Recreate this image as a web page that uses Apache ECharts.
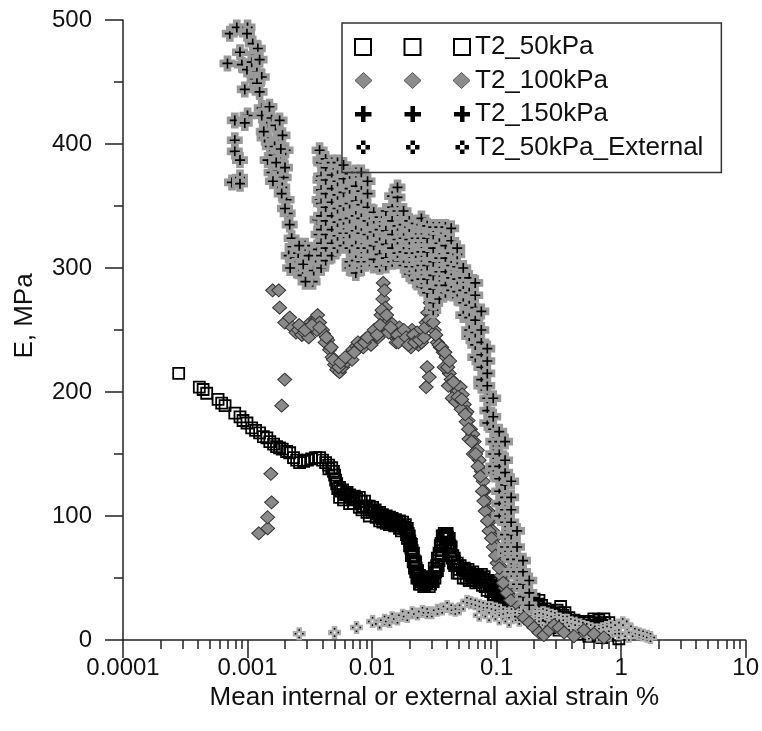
<!DOCTYPE html>
<html><head><meta charset="utf-8">
<script src="https://cdn.jsdelivr.net/npm/echarts@6/dist/echarts.min.js"></script>
<style>html,body{margin:0;padding:0;background:#fff}#c{width:762px;height:731px}</style>
</head><body><div id="c"></div>
<script>
const xTickLabels = ['0.0001','0.001','0.01','0.1','1','10'];
const seriesNames = ['T2_50kPa','T2_100kPa','T2_150kPa','T2_50kPa_External'];
const xTitle = 'Mean internal or external axial strain %';
const yTitle = 'E, MPa';

// T2_50kPa (hollow squares)
const sq50 = [[0.00028,215],[0.00041,204],[0.00044,202],[0.00047,199],[0.00058,194],[0.00062,191],[0.00066,189],[0.00079,183],[0.00087,180],[0.00092,177],[0.00099,175],[0.00108,171],[0.00116,169],[0.00125,167],[0.00134,164],[0.00143,163],[0.00151,160],[0.00162,158],[0.00171,156],[0.00181,155],[0.0019,154],[0.00206,152],[0.00218,151],[0.00234,147],[0.00248,145],[0.00262,143],[0.00282,144],[0.00303,145],[0.00327,146],[0.00352,147],[0.00379,147],[0.004,145],[0.00424,143],[0.00448,141],[0.00474,139],[0.0049,136],[0.005,133],[0.0051,129],[0.0052,126],[0.00548,123],[0.0058,121],[0.0063,119],[0.0066,117],[0.0072,116],[0.0079,115],[0.0087,112],[0.0095,108],[0.0101,107],[0.0106,105],[0.0115,103],[0.0121,101],[0.013,100],[0.0138,99],[0.0145,98],[0.0154,97],[0.0166,96],[0.0176,95],[0.0185,93],[0.0192,90],[0.0199,84],[0.0207,77],[0.0215,70],[0.0224,63],[0.0232,56],[0.024,52],[0.0254,50],[0.0268,49],[0.0282,49],[0.0298,51],[0.0316,58],[0.0335,66],[0.0353,76],[0.0366,84],[0.038,86],[0.0401,86],[0.0417,82],[0.0432,75],[0.0457,66],[0.0483,62],[0.051,60],[0.055,58],[0.059,57],[0.0644,55],[0.07,53],[0.0755,53],[0.0795,51],[0.0855,48],[0.0905,47],[0.0956,46],[0.101,42],[0.105,37],[0.111,34],[0.119,32],[0.128,30],[0.138,29],[0.152,31],[0.166,33],[0.183,34],[0.2,33],[0.219,32],[0.23,28],[0.245,25],[0.264,23],[0.289,21],[0.306,24],[0.327,27],[0.354,22],[0.381,18],[0.418,16],[0.458,15],[0.503,14],[0.551,15],[0.604,17],[0.662,16],[0.727,17],[0.797,14],[0.83,8],[0.77,4],[0.7,2],[0.66,5],[0.874,4],[0.959,1],
[0.00548,115],[0.0066,110],[0.0079,107],[0.0095,100],[0.0115,96],[0.0138,93],[0.0166,90],[0.0192,82],[0.0207,68],[0.0224,55],[0.024,45],[0.026,43],[0.0288,43],[0.031,47],[0.0335,56],[0.036,68],[0.039,78],[0.0417,74],[0.045,62],[0.0483,54],[0.054,50],[0.0603,48],[0.068,46],[0.077,44],[0.084,40],[0.094,36],[0.105,28],[0.117,24],[0.13,22],[0.146,20],[0.163,22],[0.183,24],[0.204,22],[0.226,17],[0.252,12],[0.284,10],[0.317,8],[0.354,10],[0.395,8],[0.44,6],[0.49,5],[0.551,3],[0.62,4],
[0.0045,138],[0.0053,122],[0.006,117],[0.007,113],[0.0085,108],[0.01,103],[0.012,98],[0.014,96],[0.016,93],[0.018,90],[0.0195,86],[0.0203,78],[0.021,72],[0.022,62],[0.0228,55],[0.0235,50],[0.025,47],[0.0275,46],[0.03,48],[0.0325,55],[0.0345,64],[0.037,76],[0.0392,82],[0.041,78],[0.0425,72],[0.044,66],[0.047,60],[0.05,57],[0.057,54],[0.062,52],[0.066,50],[0.073,49],[0.08,47],[0.088,44],[0.098,40],[0.103,35],[0.108,31],[0.114,29],[0.123,27],[0.135,25],[0.148,26],[0.16,28],[0.175,29],[0.19,29],[0.21,27],[0.24,20],[0.27,17],[0.3,16],[0.33,18],[0.37,14],[0.41,12],[0.47,10],[0.53,9],[0.58,10],[0.64,11],[0.7,12],[0.76,11],
[0.0056,120],[0.0062,118],[0.0068,115],[0.0075,114],[0.0082,112],[0.009,108],[0.0098,105],[0.0104,104],[0.011,102],[0.0118,100],[0.0125,99],[0.0134,97],[0.0142,96],[0.015,95],[0.0158,94],[0.0171,92],[0.0181,91],[0.0188,88],[0.0197,82],[0.0201,80],[0.0205,74],[0.0212,68],[0.0218,64],[0.0226,58],[0.0236,52],[0.0245,48],[0.0258,46],[0.0262,48],[0.0272,47],[0.029,47],[0.0305,50],[0.0318,54],[0.033,60],[0.0345,70],[0.0358,78],[0.0375,84],[0.0385,84],[0.0395,85],[0.0405,83],[0.0422,76],[0.0445,68],[0.046,63],[0.049,60],[0.053,57],[0.056,56],[0.061,54],[0.0655,52],[0.069,51],[0.0745,50],[0.078,49],[0.082,48],[0.087,45],[0.092,43],[0.097,41],[0.1,39],[0.107,33],[0.113,30],[0.121,28],[0.132,26],[0.142,27],[0.156,29],[0.17,31],[0.186,31],[0.198,30],[0.215,29],[0.225,24],[0.235,22],[0.258,20],[0.28,18],[0.295,19],[0.315,22],[0.34,20],[0.36,17],[0.4,13],[0.44,12],[0.48,11],[0.52,12],[0.57,12],[0.62,14],[0.68,13],[0.74,14],[0.8,11],
[0.0059,113],[0.0071,110],[0.0083,105],[0.0091,103],[0.0108,99],[0.0122,95],[0.013,94],[0.0152,92],[0.0172,88],[0.0189,85],[0.02,76],[0.0214,63],[0.0219,58],[0.0229,50],[0.0245,45],[0.0265,44],[0.0295,45],[0.032,50],[0.034,60],[0.0365,72],[0.0385,79],[0.0405,76],[0.043,68],[0.046,60],[0.05,54],[0.057,50],[0.064,48],[0.072,47],[0.081,43],[0.09,39],[0.096,37],[0.102,32],[0.11,27],[0.122,24],[0.14,23],[0.155,24],[0.172,26],[0.195,26],[0.212,22],[0.24,15],[0.27,13],[0.3,12],[0.345,14],[0.38,11],[0.43,9],[0.52,7],[0.6,7],[0.68,8]];

// T2_100kPa (grey diamonds)
const dia100 = [[0.00123,86],[0.00145,90],[0.00145,99],[0.00156,111],[0.00154,134],[0.00188,189],[0.00199,210],[0.00159,282],[0.00178,282],[0.00181,268],[0.00199,256],[0.00218,260],[0.0023,252],[0.00245,248],[0.00256,250],[0.00273,246],[0.00287,248],[0.00303,252],[0.0032,256],[0.0034,252],[0.00352,258],[0.00365,262],[0.00379,256],[0.004,250],[0.00408,247],[0.0044,242],[0.00456,234],[0.00478,228],[0.005,222],[0.0052,218],[0.00548,216],[0.0058,220],[0.0063,225],[0.0066,230],[0.007,234],[0.0075,237],[0.0079,236],[0.0083,240],[0.0089,243],[0.0095,242],[0.0101,245],[0.0106,248],[0.0113,252],[0.0118,262],[0.0122,275],[0.0123,288],[0.0126,282],[0.0128,268],[0.0133,256],[0.0138,250],[0.0145,255],[0.0151,245],[0.0156,240],[0.0166,252],[0.0176,248],[0.0185,242],[0.0192,246],[0.0199,240],[0.021,250],[0.0224,244],[0.0236,238],[0.0245,246],[0.0258,250],[0.0272,256],[0.028,264],[0.0293,272],[0.0302,262],[0.0277,220],[0.0272,204],[0.0288,212],[0.0316,250],[0.0335,240],[0.0353,236],[0.0373,232],[0.0393,228],[0.0417,215],[0.0432,210],[0.0457,203],[0.0483,200],[0.051,204],[0.053,198],[0.055,190],[0.0578,184],[0.059,177],[0.0617,170],[0.0644,166],[0.066,160],[0.07,153],[0.0725,145],[0.0755,136],[0.078,128],[0.0795,120],[0.083,112],[0.0855,104],[0.089,96],[0.093,88],[0.0956,82],[0.099,76],[0.103,70],[0.107,64],[0.111,58],[0.115,52],[0.119,45],[0.124,40],[0.128,36],[0.135,33],[0.143,30],
[0.038,220],[0.041,205],[0.044,195],[0.047,192],[0.052,186],[0.057,176],[0.06,162],[0.065,150],[0.071,140],[0.077,120],[0.081,104],[0.087,88],[0.094,75],[0.101,62],[0.109,52],[0.117,42],
[0.0031,244],[0.0036,250],[0.0042,240],[0.0069,226],[0.0085,236],[0.0098,238],[0.0112,244],[0.0148,248],[0.017,242],[0.0205,236],[0.023,248],[0.025,240],
[0.0026,254],[0.0029,250],[0.0033,254],[0.0038,252],[0.0043,244],[0.0047,236],[0.0049,226],[0.0054,220],[0.0056,224],[0.0061,228],[0.0072,232],[0.0077,240],[0.0081,238],[0.0087,240],[0.0092,244],[0.0104,250],[0.011,246],[0.0116,254],[0.012,266],[0.0131,262],[0.0136,248],[0.0141,252],[0.016,246],[0.0163,240],[0.018,250],[0.0188,244],[0.0196,238],[0.0215,246],[0.022,240],[0.024,242],[0.0262,244],[0.0268,252],[0.0286,258],[0.0298,268],[0.031,256],[0.0325,246],[0.0345,238],[0.0362,236],[0.0385,232],[0.0405,220],
[0.042,225],[0.045,208],[0.049,196],[0.0525,194],[0.056,182],[0.0595,170],[0.063,160],[0.068,150],[0.074,132],[0.079,112],[0.0845,96],[0.091,82],[0.098,68],[0.105,58],[0.113,46],[0.121,38],[0.13,32],
[0.166,18],[0.183,14],[0.2,10],[0.219,6],[0.24,4],[0.264,8],[0.289,12],[0.317,10],[0.348,6],[0.418,3],[0.503,8],[0.604,5],[0.727,2]];

// T2_150kPa (plus)
const plus150 = [[0.00072,489],[0.00082,494],[0.001,494],[0.00099,489],[0.00087,474],[0.00069,465],[0.0009,464],[0.00099,460],[0.0011,481],[0.00116,472],[0.00121,477],[0.00108,466],[0.00119,458],[0.00125,468],[0.00114,452],[0.0013,454],[0.00119,449],[0.00095,444],[0.00125,442],[0.0013,429],[0.0013,423],[0.001,423],[0.00079,419],[0.00095,417],[0.00079,403],[0.00079,394],[0.00087,387],[0.00075,369],[0.00087,373],[0.00087,368],
[0.00143,415],[0.00137,405],[0.00156,421],[0.00168,415],[0.00181,419],[0.00151,398],[0.00171,403],[0.00191,407],[0.00145,387],[0.00162,391],[0.00181,387],[0.00202,395],[0.00156,377],[0.00175,379],[0.00195,373],[0.0019,365],[0.00206,355],[0.0021,344],[0.00218,335],[0.00226,324],[0.0023,317],[0.00135,410],[0.0015,430],[0.00165,398],[0.00185,396],[0.0017,385],[0.0016,370],[0.002,381],[0.00188,360],[0.002,348],
[0.00214,310],[0.00239,308],[0.00262,305],[0.00248,298],[0.00277,294],[0.00303,300],[0.00327,292],[0.00333,289],[0.00292,289],[0.00352,302],[0.00365,315],[0.00372,327],[0.00365,339],[0.00379,355],[0.00385,371],[0.00385,387],[0.00379,395],[0.0022,300],[0.00255,312],[0.0028,303],[0.0031,310],[0.0034,298],[0.0029,318],[0.0026,318],
[0.0039,300],[0.0039,310],[0.0039,320],[0.0039,331],[0.0039,342],[0.0039,352],[0.0039,363],[0.0039,374],[0.0039,385],
[0.00424,306],[0.00424,316],[0.00424,327],[0.00424,338],[0.00424,349],[0.00424,360],[0.00424,371],[0.00424,381],[0.00424,388],
[0.00474,310],[0.00474,320],[0.00474,331],[0.00474,342],[0.00474,353],[0.00474,364],[0.00474,375],[0.00474,385],
[0.00528,316],[0.00528,326],[0.00528,337],[0.00528,348],[0.00528,359],[0.00528,370],[0.00528,380],[0.00528,385],
[0.0059,318],[0.0059,328],[0.0059,339],[0.0059,350],[0.0059,361],[0.0059,372],[0.0059,383],
[0.0066,300],[0.0066,305],[0.0066,316],[0.0066,328],[0.0066,340],[0.0066,352],[0.0066,364],[0.0066,376],
[0.0074,296],[0.0074,306],[0.0074,318],[0.0074,330],[0.0074,342],[0.0074,354],[0.0074,366],[0.0074,377],
[0.0082,300],[0.0082,305],[0.0082,316],[0.0082,328],[0.0082,340],[0.0082,351],[0.0082,362],[0.0082,377],
[0.0092,305],[0.0092,316],[0.0092,327],[0.0092,338],[0.0092,349],[0.0092,360],[0.0092,370],
[0.0103,302],[0.0103,307],[0.0103,318],[0.0103,329],[0.0103,340],[0.0103,345],
[0.0115,301],[0.0115,311],[0.0115,321],[0.0115,331],[0.0115,341],
[0.0129,302],[0.0129,308],[0.0129,319],[0.0129,330],[0.0129,341],[0.0129,346],
[0.0145,305],[0.0145,316],[0.0145,327],[0.0145,338],[0.0145,349],[0.0145,358],
[0.016,306],[0.016,312],[0.016,323],[0.016,334],[0.016,346],[0.016,357],[0.016,365],
[0.0179,302],[0.0179,313],[0.0179,324],[0.0179,335],[0.0179,346],
[0.0199,295],[0.0199,301],[0.0199,312],[0.0199,323],[0.0199,333],[0.0199,338],
[0.0224,290],[0.0224,301],[0.0224,312],[0.0224,324],[0.0224,336],
[0.0249,285],[0.0249,291],[0.0249,302],[0.0249,313],[0.0249,324],[0.0249,335],[0.0249,340],
[0.0277,280],[0.0277,291],[0.0277,302],[0.0277,313],[0.0277,324],[0.0277,334],
[0.031,266],[0.031,272],[0.031,283],[0.031,294],[0.031,305],[0.031,316],[0.031,327],[0.031,333],
[0.0347,275],[0.0347,286],[0.0347,297],[0.0347,308],[0.0347,320],[0.0347,333],
[0.0388,280],[0.0388,286],[0.0388,297],[0.0388,308],[0.0388,318],[0.0388,328],[0.0388,333],
[0.0432,282],[0.0432,292],[0.0432,302],[0.0432,312],[0.0432,322],[0.0432,332],
[0.0483,276],[0.0483,281],[0.0483,291],[0.0483,301],[0.0483,311],[0.0483,316],
[0.054,262],[0.054,272],[0.054,282],[0.054,292],[0.054,300],
[0.0603,245],[0.0603,250],[0.0603,260],[0.0603,270],[0.0603,280],[0.0603,292],
[0.0674,228],[0.0674,238],[0.0674,248],[0.0674,258],[0.0674,268],[0.0674,278],[0.0674,288],
[0.0754,205],[0.0754,210],[0.0754,220],[0.0754,230],[0.0754,240],[0.0754,250],[0.0754,265],
[0.0842,175],[0.0842,185],[0.0842,195],[0.0842,205],[0.0842,215],[0.0842,225],[0.0842,235],
[0.094,135],[0.094,140],[0.094,150],[0.094,160],[0.094,170],[0.094,180],[0.094,195],
[0.105,100],[0.105,110],[0.105,120],[0.105,130],[0.105,140],[0.105,150],[0.105,160],[0.105,168],
[0.117,70],[0.117,75],[0.117,85],[0.117,95],[0.117,105],[0.117,115],[0.117,125],[0.117,135],[0.117,145],[0.117,160],
[0.131,55],[0.131,65],[0.131,75],[0.131,85],[0.131,95],[0.131,105],[0.131,115],[0.131,128],
[0.146,45],[0.146,55],[0.146,65],[0.146,75],[0.146,88],
[0.163,35],[0.163,45],[0.163,55],[0.163,64],
[0.183,28],[0.183,38],[0.183,48]];

// T2_50kPa_External (dotted cross)
const ext50 = [[0.0026,5],[0.005,6],[0.0075,10],[0.0101,15],[0.0115,13],[0.0126,16],[0.0138,15],[0.0145,18],[0.016,17],[0.0176,20],[0.0192,19],[0.021,22],[0.0232,21],[0.0254,23],[0.0277,22],[0.0302,22],[0.0335,24],[0.0366,25],[0.0401,27],[0.0432,25],[0.0466,24],[0.0501,25],[0.054,28],[0.0578,31],[0.062,30],[0.0674,29],[0.0725,28],[0.078,27],[0.0842,26],[0.09,26],[0.0975,25],[0.105,24],[0.113,22],[0.121,21],[0.131,22],[0.141,25],[0.152,27],[0.163,26],[0.175,24],[0.189,23],[0.204,22],[0.219,21],[0.236,22],[0.253,21],[0.274,20],[0.294,19],[0.317,17],[0.341,16],[0.368,16],[0.395,14],[0.426,13],[0.458,12],[0.493,11],[0.53,10],[0.57,9],[0.615,8],[0.662,8],[0.713,9],[0.767,10],[0.826,11],[0.89,10],[0.959,12],[1.03,14],[1.11,12],[1.2,8],[1.29,6],[1.39,5],[1.5,4],[1.62,3],[1.72,2],
[0.0725,20],[0.087,19],[0.105,17],[0.126,15],[0.152,16],[0.183,14],[0.219,12],[0.264,11],[0.317,9],[0.381,8],[0.458,6],[0.551,4],[0.662,3],[0.797,4],[0.959,5],[1.155,3]];

const FONT = '"Liberation Sans", Arial, sans-serif';
const AX = '#222';
const plusPath = 'path://M4.5,0H9.5V4.5H14V9.5H9.5V14H4.5V9.5H0V4.5H4.5Z';
const extPath = 'path://M4.75,0H9.25V4.5H4.75Z M0,4.75H4.5V9.25H0Z M9.5,4.75H14V9.25H9.5Z M4.75,9.5H9.25V14H4.75Z';

const legSq = 'path://M0,0H16V16H0Z M49.5,0H65.5V16H49.5Z M99,0H115V16H99Z';
const legDia = 'path://M8.5,0L17,8L8.5,16L0,8Z M57.5,0L66,8L57.5,16L49,8Z M106.5,0L115,8L106.5,16L98,8Z';
const legPlus = 'path://M6,0H10.5V6H16.5V10.5H10.5V16H6V10.5H0V6H6Z M55.5,0H60V6H66V10.5H60V16H55.5V10.5H49.5V6H55.5Z M105,0H109.5V6H115V10.5H109.5V16H105V10.5H99V6H105Z';
const legExt = 'path://M6,1H10.5V5.5H6Z M1.5,5.5H6V10H1.5Z M10.5,5.5H15V10H10.5Z M6,10H10.5V14.5H6Z M55.5,1H60V5.5H55.5Z M51,5.5H55.5V10H51Z M60,5.5H64.5V10H60Z M55.5,10H60V14.5H55.5Z M105,1H109.5V5.5H105Z M100.5,5.5H105V10H100.5Z M109.5,5.5H114V10H109.5Z M105,10H109.5V14.5H105Z M0,0 M115,16';

const minorX = [];
for (let d = -4; d < 1; d++) for (let m = 2; m <= 9; m++) minorX.push(d + Math.log10(m));

const chart = echarts.init(document.getElementById('c'), null, {renderer: 'canvas'});
chart.setOption({
  animation: false,
  backgroundColor: '#fff',
  textStyle: {fontFamily: FONT},
  grid: {left: 123, right: 15, top: 20, bottom: 91, containLabel: false},
  xAxis: [{
    type: 'log', logBase: 10, min: 0.0001, max: 10, position: 'bottom',
    axisLine: {onZero: false, lineStyle: {color: AX, width: 1.5}},
    axisTick: {length: 18, lineStyle: {color: AX, width: 1.5}},
    axisLabel: {fontSize: 24, color: '#111', fontFamily: FONT, margin: 16,
      formatter: v => xTickLabels[Math.round(Math.log10(v)) + 4]},
    splitLine: {show: false}, minorTick: {show: false},
    name: xTitle, nameLocation: 'middle', nameGap: 38,
    nameTextStyle: {fontSize: 26, color: '#111', fontFamily: FONT}
  }, {
    type: 'value', min: -4, max: 1, position: 'bottom',
    axisLine: {show: false, onZero: false},
    axisTick: {show: true, length: 9, customValues: minorX, lineStyle: {color: AX, width: 1.5}},
    axisLabel: {show: false}, splitLine: {show: false}
  }],
  yAxis: {
    type: 'value', min: 0, max: 500, interval: 100,
    axisLine: {show: true, onZero: false, lineStyle: {color: AX, width: 1.5}},
    axisTick: {show: true, length: 18, lineStyle: {color: AX, width: 1.5}},
    minorTick: {show: true, splitNumber: 2, length: 9, lineStyle: {color: AX, width: 1.5}},
    axisLabel: {fontSize: 24, color: '#111', fontFamily: FONT, margin: 31},
    splitLine: {show: false},
    name: yTitle, nameLocation: 'middle', nameGap: 85,
    nameTextStyle: {fontSize: 26, color: '#111', fontFamily: FONT, padding: [0, 0, 0, 28]}
  },
  legend: {
    orient: 'vertical', left: 342, top: 23, padding: [11, 18, 12, 12],
    itemGap: 7.5, itemWidth: 115, itemHeight: 16,
    borderColor: '#333', borderWidth: 1.5, selectedMode: false,
    textStyle: {fontSize: 26, lineHeight: 26, color: '#111', fontFamily: FONT},
    data: [
      {name: seriesNames[0], icon: legSq, itemStyle: {color: 'rgba(0,0,0,0)', borderColor: '#000', borderWidth: 2}},
      {name: seriesNames[1], icon: legDia, itemStyle: {color: '#8c8c8c', borderColor: '#555', borderWidth: 1}},
      {name: seriesNames[2], icon: legPlus, itemStyle: {color: '#000', borderWidth: 0}},
      {name: seriesNames[3], icon: legExt, itemStyle: {color: '#000', borderWidth: 0}}
    ]
  },
  series: [
    {name: seriesNames[0], type: 'scatter', data: sq50, symbol: 'rect', symbolSize: 11,
     itemStyle: {color: 'rgba(0,0,0,0)', borderColor: '#000', borderWidth: 1.8, opacity: 1}},
    {name: seriesNames[3], type: 'scatter', data: ext50, symbol: extPath, symbolSize: 11,
     itemStyle: {color: '#000', borderColor: '#adadad', borderWidth: 2, opacity: 1}},
    {name: seriesNames[1], type: 'scatter', data: dia100, symbol: 'diamond', symbolSize: [14, 13],
     itemStyle: {color: '#8a8a8a', borderColor: '#333', borderWidth: 1, opacity: 1}},
    {name: seriesNames[2], type: 'scatter', data: plus150, symbol: plusPath, symbolSize: 13,
     itemStyle: {color: '#000', borderColor: '#9a9a9a', borderWidth: 3, opacity: 1}}
  ]
});
</script></body></html>
